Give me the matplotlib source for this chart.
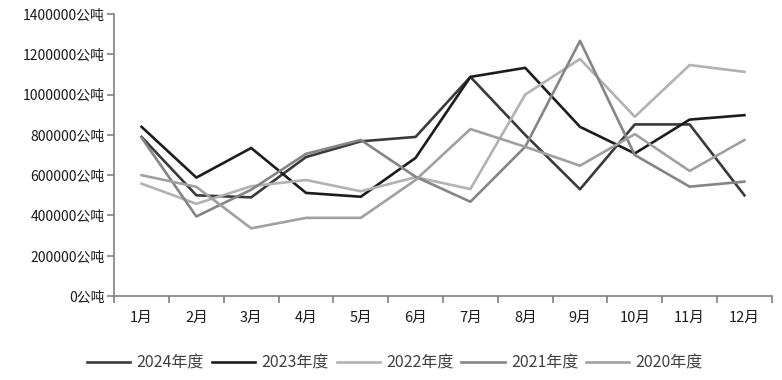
import matplotlib
matplotlib.use("Agg")
import matplotlib.pyplot as plt
from matplotlib.ticker import FixedLocator, FuncFormatter

plt.rcParams['font.family'] = ['Noto Sans CJK SC', 'DejaVu Sans']

months = ['1月', '2月', '3月', '4月', '5月', '6月', '7月', '8月', '9月', '10月', '11月', '12月']
series_names = ['2024年度', '2023年度', '2022年度', '2021年度', '2020年度']
v2024 = [790000, 500000, 490000, 690000, 768000, 790000, 1088000, 800000, 530000, 852000, 852000, 500000]
v2023 = [840000, 588000, 735000, 512000, 493000, 686000, 1088000, 1133000, 840000, 708000, 876000, 898000]
v2022 = [558000, 458000, 545000, 576000, 520000, 590000, 531000, 1000000, 1177000, 890000, 1147000, 1113000]
v2021 = [786000, 395000, 528000, 706000, 775000, 592000, 468000, 741000, 1267000, 700000, 543000, 568000]
v2020 = [600000, 542000, 336000, 388000, 388000, 576000, 829000, 741000, 647000, 804000, 621000, 775000]
colors = ['#3a3a3a', '#1c1c1c', '#b2b2b2', '#858585', '#a0a0a0']

fig = plt.figure(figsize=(7.82, 3.8), dpi=100)
ax = fig.add_axes([0.146, 0.221, 0.841, 0.742])

x = list(range(len(months)))
for name, vals, c in zip(series_names, [v2024, v2023, v2022, v2021, v2020], colors):
    ax.plot(x, vals, color=c, lw=1.9, label=name)

ax.set_xlim(-0.5, 11.5)
ax.set_ylim(0, 1400000)
ax.yaxis.set_major_locator(FixedLocator(range(0, 1400001, 200000)))
ax.yaxis.set_major_formatter(FuncFormatter(lambda v, p: f'{int(v)}公吨'))
ax.xaxis.set_major_locator(FixedLocator([i - 0.5 for i in range(13)]))
ax.xaxis.set_major_formatter(FuncFormatter(lambda v, p: ''))
ax.xaxis.set_minor_locator(FixedLocator(x))
ax.set_xticklabels(months, minor=True)
ax.tick_params(axis='x', which='major', length=5, width=1.2, color='#808080', direction='out')
ax.tick_params(axis='x', which='minor', length=0, pad=11, labelsize=10.5, labelcolor='#1a1a1a')
ax.tick_params(axis='y', length=5, width=1.2, color='#808080', direction='out', labelsize=10, labelcolor='#1a1a1a', pad=2)

for s in ['top', 'right']:
    ax.spines[s].set_visible(False)
for s in ['left', 'bottom']:
    ax.spines[s].set_color('#808080')
    ax.spines[s].set_linewidth(1.2)

fig.legend(loc='lower center', bbox_to_anchor=(0.505, -0.015), ncol=5, frameon=False,
           fontsize=11.5, handlelength=2.7, columnspacing=0.5, handletextpad=0.4,
           labelcolor='#404040')

fig.savefig('out.png', dpi=100)
